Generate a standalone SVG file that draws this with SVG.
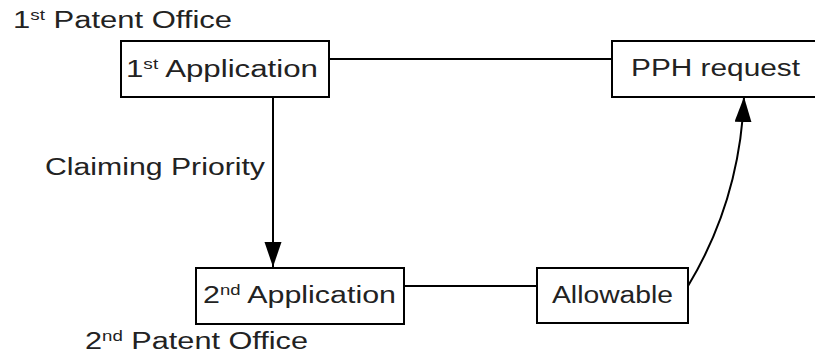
<svg xmlns="http://www.w3.org/2000/svg" width="815" height="359" viewBox="0 0 815 359">
  <defs>
    <style>
      .box { fill: #ffffff; stroke: #000000; stroke-width: 2; }
      .conn { fill: none; stroke: #000000; stroke-width: 2; }
      text { font-family: "Liberation Sans", "Noto Sans CJK JP", sans-serif; font-size: 23px; fill: #222222; }
      .sup { font-size: 14px; }
    </style>
    <marker id="arrow" markerUnits="userSpaceOnUse" markerWidth="26" markerHeight="18" refX="25" refY="8.5" orient="auto">
      <path d="M0,0 L25,8.5 L0,17 z" fill="#000000"/>
    </marker>
  </defs>
  <rect width="815" height="359" fill="#ffffff"/>

  <g id="connectors">
    <line class="conn" x1="329" y1="59" x2="612" y2="59"/>
    <line class="conn" x1="273" y1="97" x2="273" y2="267" marker-end="url(#arrow)"/>
    <line class="conn" x1="404" y1="286" x2="537" y2="286"/>
    <path class="conn" d="M688,286 Q740,200 744,97" marker-end="url(#arrow)"/>
  </g>

  <g id="label-1st-office">
    <text x="13" y="28" textLength="219" lengthAdjust="spacingAndGlyphs">1<tspan class="sup" dy="-8">st</tspan><tspan dy="8"> Patent Office</tspan></text>
  </g>

  <g id="node-1st-application">
    <rect class="box" x="121" y="41" width="208" height="56"/>
    <text x="126" y="77" textLength="192" lengthAdjust="spacingAndGlyphs">1<tspan class="sup" dy="-8">st</tspan><tspan dy="8"> Application</tspan></text>
  </g>

  <g id="node-pph-request">
    <rect class="box" x="612" y="41" width="220" height="56"/>
    <text x="631" y="76" textLength="169" lengthAdjust="spacingAndGlyphs">PPH request</text>
  </g>

  <g id="label-claiming-priority">
    <text x="45" y="175" textLength="220" lengthAdjust="spacingAndGlyphs">Claiming Priority</text>
  </g>

  <g id="node-2nd-application">
    <rect class="box" x="196" y="268" width="208" height="56"/>
    <text x="203" y="303" textLength="193" lengthAdjust="spacingAndGlyphs">2<tspan class="sup" dy="-8">nd</tspan><tspan dy="8"> Application</tspan></text>
  </g>

  <g id="node-allowable">
    <rect class="box" x="537" y="268" width="151" height="55"/>
    <text x="552" y="303" textLength="121" lengthAdjust="spacingAndGlyphs">Allowable</text>
  </g>

  <g id="label-2nd-office">
    <text x="85" y="349" textLength="223" lengthAdjust="spacingAndGlyphs">2<tspan class="sup" dy="-8">nd</tspan><tspan dy="8"> Patent Office</tspan></text>
  </g>
</svg>
